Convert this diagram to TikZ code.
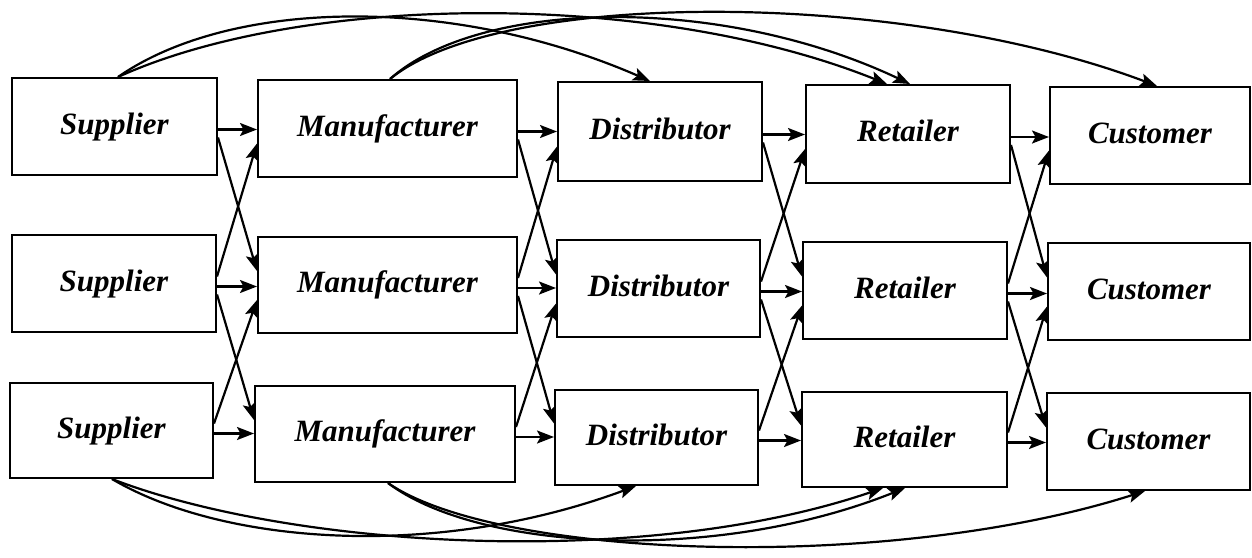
\documentclass[tikz,border=0pt]{standalone}
\usepackage{fontspec}
\setmainfont{Liberation Serif}
\usetikzlibrary{arrows.meta,calc}
\begin{document}
\begin{tikzpicture}[x=1pt,y=-1pt,
  box/.style={draw, line width=2pt, inner sep=0pt, text height=22pt, text depth=7pt,
    font=\fontsize{31}{36}\selectfont\bfseries\itshape},
  arr/.style={line width=2.2pt, -{Stealth[length=17pt,width=13pt,inset=3.5pt]}},
]
\useasboundingbox (0,0) rectangle (1252,557);
% row 1
\node[box, minimum width=205pt, minimum height=97pt] (S1) at (114.5,126.5) {Supplier};
\node[box, minimum width=259pt, minimum height=97pt] (M1) at (387.5,128.5) {Manufacturer};
\node[box, minimum width=204pt, minimum height=99pt] (D1) at (660,131.5) {Distributor};
\node[box, minimum width=204pt, minimum height=98pt] (R1) at (908,134) {Retailer};
\node[box, minimum width=200pt, minimum height=97pt] (C1) at (1150,135.5) {Customer};
% row 2
\node[box, minimum width=204pt, minimum height=97pt] (S2) at (114,283.5) {Supplier};
\node[box, minimum width=259pt, minimum height=96pt] (M2) at (387.5,285) {Manufacturer};
\node[box, minimum width=203pt, minimum height=97pt] (D2) at (658.5,288.5) {Distributor};
\node[box, minimum width=204pt, minimum height=97pt] (R2) at (905,290.5) {Retailer};
\node[box, minimum width=202pt, minimum height=97pt] (C2) at (1149,291.5) {Customer};
% row 3
\node[box, minimum width=203pt, minimum height=95pt] (S3) at (111.5,430.5) {Supplier};
\node[box, minimum width=260pt, minimum height=96pt] (M3) at (385,434) {Manufacturer};
\node[box, minimum width=203pt, minimum height=95pt] (D3) at (656.5,437.5) {Distributor};
\node[box, minimum width=205pt, minimum height=95pt] (R3) at (904.5,439.5) {Retailer};
\node[box, minimum width=203pt, minimum height=97pt] (C3) at (1148.5,441.5) {Customer};

% stage-to-stage connectors
\foreach \a/\b in {S/M, M/D, D/R, R/C} {
  \foreach \r in {1,2,3} {
    \coordinate (h) at ($(\a\r.east)+(0,3)$);
    \draw[arr] (h) -- (h -| \b\r.west);
  }
  \foreach \r/\s in {1/2, 2/3} {
    \draw[arr] ($(\a\r.east)+(0,11)$) -- ($(\b\s.west)+(0,-14)$);
    \draw[arr] ($(\a\s.east)+(0,-7)$) -- ($(\b\r.west)+(0,15)$);
  }
}

% top bypass arcs
\coordinate (s1) at ($(S1.north)+(3.5,0)$);
\coordinate (m1) at ($(M1.north)+(2.5,0)$);
\coordinate (d1) at ($(D1.north)+(-10,0)$);
\coordinate (r1a) at ($(R1.north)+(-21,0)$);
\coordinate (r1b) at ($(R1.north)+(2,0)$);
\coordinate (c1) at ($(C1.north)+(7,0)$);
\draw[arr] (s1) .. controls ($(s1)+(112,-78)$) and ($(d1)+(-200,-87)$) .. (d1);
\draw[arr] (s1) .. controls ($(s1)+(182,-83)$) and ($(r1a)+(-237,-95)$) .. (r1a);
\draw[arr] (m1) .. controls ($(m1)+(90,-80)$) and ($(r1b)+(-190,-90)$) .. (r1b);
\draw[arr] (m1) .. controls ($(m1)+(110,-90)$) and ($(c1)+(-257,-97)$) .. (c1);

% bottom bypass arcs
\coordinate (s3) at ($(S3.south)+(0.5,0)$);
\coordinate (m3) at ($(M3.south)+(3,0)$);
\coordinate (d3) at ($(D3.south)+(-20.5,0)$);
\coordinate (r3a) at ($(R3.south)+(-21.5,0)$);
\coordinate (r3b) at ($(R3.south)+(0.5,0)$);
\coordinate (c3) at ($(C3.south)+(-3.5,0)$);
\draw[arr] (s3) .. controls ($(s3)+(112,66)$) and ($(d3)+(-200,74)$) .. (d3);
\draw[arr] (s3) .. controls ($(s3)+(182,70)$) and ($(r3a)+(-237,81)$) .. (r3a);
\draw[arr] (m3) .. controls ($(m3)+(90,68)$) and ($(r3b)+(-190,76)$) .. (r3b);
\draw[arr] (m3) .. controls ($(m3)+(110,76)$) and ($(c3)+(-257,82)$) .. (c3);
\end{tikzpicture}
\end{document}
